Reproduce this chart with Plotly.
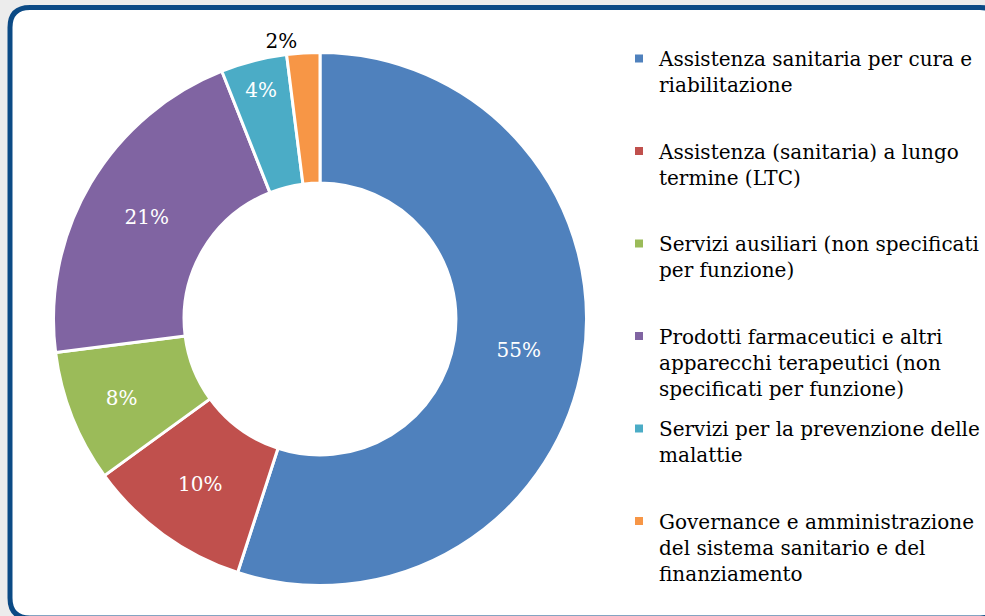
import plotly.graph_objects as go

categories = [
    "Assistenza sanitaria per cura e<br>riabilitazione",
    "Assistenza (sanitaria) a lungo<br>termine (LTC)",
    "Servizi ausiliari (non specificati<br>per funzione)",
    "Prodotti farmaceutici e altri<br>apparecchi terapeutici (non<br>specificati per funzione)",
    "Servizi per la prevenzione delle<br>malattie",
    "Governance e amministrazione<br>del sistema sanitario e del<br>finanziamento",
]
shares = [55, 10, 8, 21, 4, 2]
colors = ["#4f81bd", "#c0504d", "#9bbb59", "#8064a2", "#4bacc6", "#f79646"]
label_pos = ["inside", "inside", "inside", "inside", "inside", "outside"]

W, H = 985, 616
FONT = "DejaVu Serif"


def px(x):
    return x / W


def py(y):
    return 1 - y / H


fig = go.Figure()
fig.add_pie(
    values=shares, labels=categories, sort=False, direction="clockwise", hole=0.51,
    marker={"colors": colors, "line": {"color": "white", "width": 3}},
    texttemplate="%{percent:.0%}", textposition=label_pos,
    insidetextorientation="horizontal",
    insidetextfont={"color": "white", "size": 20, "family": FONT},
    outsidetextfont={"color": "black", "size": 20, "family": FONT},
    domain={"x": [px(53.5), px(586.5)], "y": [py(585.5), py(52.5)]},
    showlegend=False, hoverinfo="label+percent",
)

# legend entries, one group each so the spacing between items is even
for i, (name, color) in enumerate(zip(categories, colors)):
    txt = name if name.count("<br>") == 2 else name + "<br> "
    fig.add_scatter(
        x=[None], y=[None], mode="markers", name=txt, legendgroup=f"g{i}",
        marker={"symbol": "square", "size": 8, "color": color},
    )

# rounded frame
L, T, R, B, r = 10, 7.5, 1000, 618, 20
frame = (
    f"M {px(L)},{py(T + r)} Q {px(L)},{py(T)} {px(L + r)},{py(T)} "
    f"L {px(R - r)},{py(T)} Q {px(R)},{py(T)} {px(R)},{py(T + r)} "
    f"L {px(R)},{py(B - r)} Q {px(R)},{py(B)} {px(R - r)},{py(B)} "
    f"L {px(L + r)},{py(B)} Q {px(L)},{py(B)} {px(L)},{py(B - r)} Z"
)
fig.add_shape(type="path", path=frame, xref="paper", yref="paper", layer="below",
              fillcolor="white", line={"color": "#0b4a85", "width": 5})

fig.update_layout(
    width=W, height=H, margin={"l": 0, "r": 0, "t": 0, "b": 0},
    paper_bgcolor="#ececec", plot_bgcolor="rgba(0,0,0,0)",
    xaxis={"visible": False}, yaxis={"visible": False},
    font={"family": FONT, "size": 20, "color": "black"},
    legend={"x": px(619), "y": py(39), "xanchor": "left", "yanchor": "top",
            "valign": "top", "tracegroupgap": 11.5, "bgcolor": "rgba(0,0,0,0)",
            "font": {"family": FONT, "size": 20, "color": "black"}},
)
fig.write_html("out.html", config={"displayModeBar": False},
               post_script="document.body.style.margin = '0';")
